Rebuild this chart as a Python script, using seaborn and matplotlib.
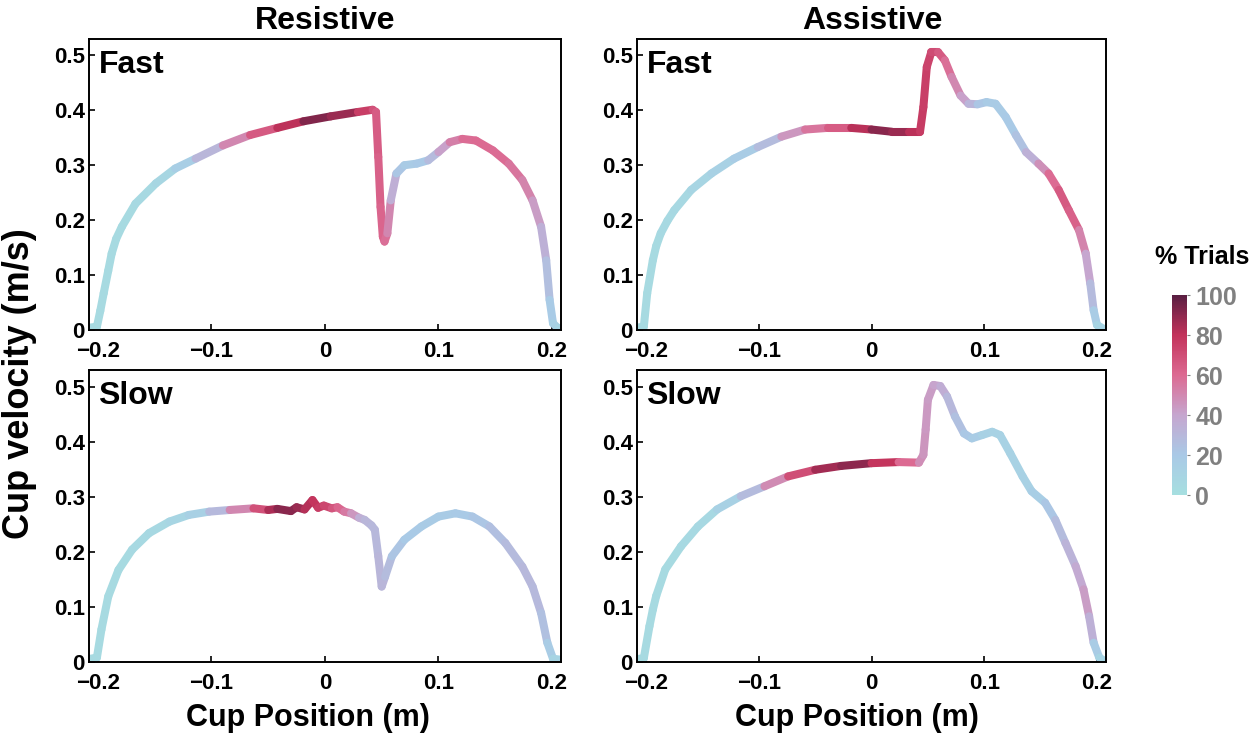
import numpy as np
import matplotlib
matplotlib.use('Agg')
import matplotlib.pyplot as plt
import seaborn as sns
from matplotlib.collections import LineCollection
from matplotlib.colors import Normalize
from matplotlib.cm import ScalarMappable

# Resistive / Fast
res_fast_x = [-0.208, -0.201, -0.198, -0.195, -0.191, -0.188, -0.184, -0.179, -0.167, -0.149, -0.132,
              -0.114, -0.090, -0.066, -0.042, -0.019, 0.005, 0.029, 0.042, 0.045, 0.047,
              0.049, 0.051, 0.0525, 0.055, 0.058, 0.063, 0.070, 0.081, 0.091, 0.100,
              0.110, 0.121, 0.133, 0.148, 0.162, 0.174, 0.183, 0.1905, 0.195, 0.198,
              0.201, 0.205, 0.208]
res_fast_v = [0.004, 0.006, 0.035, 0.067, 0.108, 0.139, 0.166, 0.188, 0.230, 0.267, 0.294,
              0.312, 0.336, 0.355, 0.368, 0.380, 0.389, 0.397, 0.401, 0.397, 0.315,
              0.224, 0.170, 0.161, 0.176, 0.236, 0.285, 0.300, 0.303, 0.309, 0.324,
              0.342, 0.348, 0.345, 0.327, 0.303, 0.273, 0.236, 0.188, 0.127, 0.055,
              0.012, 0.004, 0.004]
res_fast_pct = [5, 5, 5, 5, 5, 5, 5, 5, 5, 6, 10,
                22, 40, 60, 72, 90, 95, 80, 72, 66, 64,
                62, 62, 62, 55, 45, 25, 18, 18, 22, 35,
                48, 58, 60, 60, 58, 55, 48, 38, 30, 22,
                15, 10, 8]

# Assistive / Fast
ast_fast_x = [-0.209, -0.202, -0.199, -0.194, -0.191, -0.187, -0.181, -0.175, -0.160, -0.142, -0.122,
              -0.101, -0.080, -0.059, -0.039, -0.018, 0.000, 0.018, 0.033, 0.043, 0.046,
              0.049, 0.053, 0.059, 0.065, 0.071, 0.079, 0.086, 0.094, 0.102, 0.110,
              0.119, 0.128, 0.137, 0.148, 0.157, 0.166, 0.175, 0.184, 0.190, 0.194,
              0.197, 0.200, 0.205]
ast_fast_v = [0.004, 0.006, 0.067, 0.127, 0.153, 0.176, 0.199, 0.218, 0.255, 0.285, 0.312,
              0.333, 0.352, 0.365, 0.368, 0.368, 0.365, 0.361, 0.361, 0.361, 0.406,
              0.479, 0.506, 0.506, 0.491, 0.461, 0.427, 0.412, 0.411, 0.415, 0.412,
              0.388, 0.355, 0.324, 0.303, 0.285, 0.255, 0.218, 0.182, 0.139, 0.085,
              0.036, 0.009, 0.003]
ast_fast_pct = [5, 5, 5, 5, 5, 5, 6, 6, 8, 10, 15,
                20, 35, 55, 58, 72, 92, 90, 85, 78, 76,
                75, 72, 70, 62, 55, 45, 38, 25, 18, 18,
                18, 20, 28, 40, 55, 64, 68, 58, 45, 35,
                22, 12, 8]

# Resistive / Slow
res_slow_x = [-0.209, -0.201, -0.197, -0.191, -0.182, -0.170, -0.155, -0.137, -0.120, -0.102,
              -0.084, -0.063, -0.050, -0.042, -0.030, -0.025, -0.018, -0.011, -0.006, -0.001,
              0.006, 0.011, 0.017, 0.023, 0.030, 0.035, 0.041, 0.044, 0.047, 0.050,
              0.053, 0.059, 0.070, 0.085, 0.100, 0.115, 0.130, 0.145, 0.159, 0.174,
              0.183, 0.1905, 0.196, 0.201, 0.208]
res_slow_v = [0.005, 0.008, 0.059, 0.119, 0.167, 0.204, 0.234, 0.255, 0.267, 0.273,
              0.276, 0.279, 0.276, 0.278, 0.274, 0.281, 0.277, 0.294, 0.280, 0.284,
              0.279, 0.281, 0.273, 0.270, 0.262, 0.258, 0.248, 0.240, 0.192, 0.137,
              0.155, 0.192, 0.222, 0.246, 0.264, 0.270, 0.264, 0.246, 0.216, 0.173,
              0.137, 0.089, 0.035, 0.006, 0.004]
res_slow_pct = [5, 5, 5, 5, 5, 5, 6, 8, 10, 18,
                40, 60, 78, 90, 92, 90, 85, 80, 78, 75,
                70, 65, 58, 52, 38, 32, 30, 30, 30, 32,
                30, 25, 20, 18, 18, 18, 20, 24, 27, 30,
                30, 28, 22, 12, 8]

# Assistive / Slow
ast_slow_x = [-0.209, -0.202, -0.197, -0.194, -0.191, -0.183, -0.169, -0.154, -0.137, -0.116, -0.095,
              -0.074, -0.050, -0.027, 0.000, 0.024, 0.042, 0.046, 0.048, 0.050, 0.055,
              0.061, 0.067, 0.074, 0.082, 0.089, 0.098, 0.107, 0.114, 0.123, 0.134,
              0.142, 0.154, 0.163, 0.172, 0.181, 0.188, 0.193, 0.197, 0.202, 0.205]
ast_slow_v = [0.005, 0.007, 0.065, 0.095, 0.120, 0.168, 0.210, 0.246, 0.277, 0.301, 0.319,
              0.337, 0.349, 0.356, 0.361, 0.363, 0.362, 0.376, 0.422, 0.476, 0.503,
              0.501, 0.482, 0.446, 0.415, 0.406, 0.412, 0.418, 0.412, 0.379, 0.337,
              0.310, 0.289, 0.258, 0.216, 0.174, 0.132, 0.083, 0.035, 0.008, 0.004]
ast_slow_pct = [5, 5, 5, 5, 5, 5, 5, 6, 8, 18, 38,
                60, 80, 92, 88, 70, 50, 46, 45, 44, 42,
                40, 32, 28, 22, 20, 14, 12, 12, 12, 12,
                14, 18, 25, 30, 35, 40, 46, 22, 12, 8]

col_titles = ['Resistive', 'Assistive']
row_titles = ['Fast', 'Slow']
x_ticks = [-0.2, -0.1, 0, 0.1, 0.2]
x_tick_labels = ['\u22120.2', '\u22120.1', '0', '0.1', '0.2']
y_ticks = [0, 0.1, 0.2, 0.3, 0.4, 0.5]
y_tick_labels = ['0', '0.1', '0.2', '0.3', '0.4', '0.5']
cbar_ticks = [0, 20, 40, 60, 80, 100]
cmap_colors = ['#a6dfe0', '#a9c9e6', '#c6a6cf', '#dc6a92', '#c3335b', '#5a1e42']

sns.set_theme(style='ticks')
plt.rcParams['font.family'] = ['Liberation Sans', 'DejaVu Sans']
plt.rcParams['font.weight'] = 'bold'
plt.rcParams['text.color'] = 'black'
plt.rcParams['axes.labelcolor'] = 'black'
plt.rcParams['xtick.color'] = 'black'
plt.rcParams['ytick.color'] = 'black'

cmap = sns.blend_palette(cmap_colors, n_colors=256, as_cmap=True)
norm = Normalize(0, 100)

fig = plt.figure(figsize=(12.6, 7.39), dpi=100)
positions = {
    (0, 0): [0.0706, 0.5535, 0.3746, 0.3938],
    (0, 1): [0.5056, 0.5535, 0.3722, 0.3938],
    (1, 0): [0.0706, 0.1042, 0.3746, 0.3950],
    (1, 1): [0.5056, 0.1042, 0.3722, 0.3950],
}
panels = {
    (0, 0): (res_fast_x, res_fast_v, res_fast_pct),
    (0, 1): (ast_fast_x, ast_fast_v, ast_fast_pct),
    (1, 0): (res_slow_x, res_slow_v, res_slow_pct),
    (1, 1): (ast_slow_x, ast_slow_v, ast_slow_pct),
}
title_x = [325, 872]
xlabel_x = [308, 857]

for (r, c), (xs, vs, pct) in panels.items():
    ax = fig.add_axes(positions[(r, c)])
    pts = np.column_stack([xs, vs])
    segs = np.stack([pts[:-1], pts[1:]], axis=1)
    p = np.asarray(pct, dtype=float)
    seg_vals = (p[:-1] + p[1:]) / 2
    lc = LineCollection(segs, cmap=cmap, norm=norm, linewidths=5.8,
                        capstyle='round', joinstyle='round')
    lc.set_array(seg_vals)
    ax.add_collection(lc)

    ax.set_xlim(-0.208, 0.208)
    ax.set_ylim(0, 0.53)
    ax.set_xticks(x_ticks)
    ax.set_xticklabels(x_tick_labels)
    ax.set_yticks(y_ticks)
    ax.set_yticklabels(y_tick_labels)
    ax.tick_params(direction='in', length=4, width=1.2, labelsize=16, colors='black')
    ax.tick_params(axis='x', pad=8)
    ax.tick_params(axis='y', pad=3)
    for lab in ax.get_xticklabels() + ax.get_yticklabels():
        lab.set_fontweight('bold')
    for sp in ax.spines.values():
        sp.set_linewidth(1.4)
        sp.set_color('black')

    ax.text(0.02, 0.962, row_titles[r], transform=ax.transAxes, ha='left', va='top',
            fontsize=23, fontweight='bold')
    if r == 0:
        fig.text(title_x[c] / 1260, 1 - 21 / 739, col_titles[c], ha='center', va='center',
                 fontsize=23, fontweight='bold')
    if r == 1:
        fig.text(xlabel_x[c] / 1260, 1 - 718 / 739, 'Cup Position (m)', ha='center', va='center',
                 fontsize=22, fontweight='bold')

fig.text(20 / 1260, 1 - 384 / 739, 'Cup velocity (m/s)', rotation=90, ha='center', va='center',
         fontsize=26, fontweight='bold')

cax = fig.add_axes([0.930, 0.330, 0.0119, 0.2706])
sm = ScalarMappable(norm=norm, cmap=cmap)
cb = fig.colorbar(sm, cax=cax, ticks=cbar_ticks)
cb.outline.set_visible(False)
cax.tick_params(length=2, width=0.8, labelsize=18, colors='#808080', pad=4)
for lab in cax.get_yticklabels():
    lab.set_fontweight('bold')
fig.text(1202 / 1260, 1 - 257 / 739, '% Trials', ha='center', va='center',
         fontsize=18, fontweight='bold')

fig.savefig('out.png', dpi=100)
